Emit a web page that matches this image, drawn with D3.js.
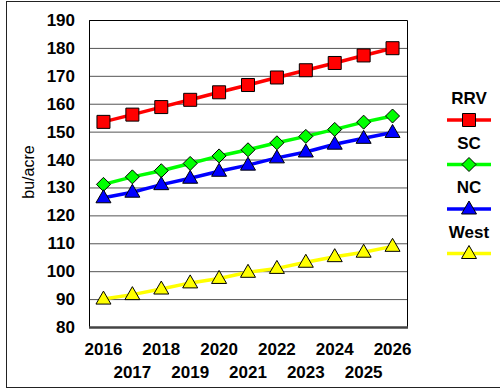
<!DOCTYPE html>
<html>
<head>
    <meta charset="UTF-8">
    <style>
        body { margin: 0; background: white; }
        text { font-family: "Liberation Sans", Arial, sans-serif; }
    </style>
</head>
<body>
    <svg></svg>
    <script src="https://d3js.org/d3.v7.min.js"></script>
    <script>
        let width = 500, height = 389;

        // data
        const years = ["2016", "2017", "2018", "2019", "2020", "2021", "2022", "2023", "2024", "2025", "2026"];
        const rrv = [153.5, 156.1, 158.8, 161.4, 164.1, 166.7, 169.4, 172.0, 174.6, 177.3, 179.9];
        const sc = [131.1, 133.8, 136.0, 138.6, 141.3, 143.5, 146.0, 148.3, 150.8, 153.4, 155.6];
        const nc = [126.3, 128.3, 131.0, 133.3, 135.8, 138.0, 140.6, 142.7, 145.5, 147.6, 149.7];
        const west = [90.0, 91.6, 93.6, 95.8, 97.4, 99.6, 101.0, 103.2, 105.2, 106.8, 108.9];
        const yTicks = [80, 90, 100, 110, 120, 130, 140, 150, 160, 170, 180, 190];

        const series = [
            { name: "RRV", values: rrv, color: "#ff0000", marker: "square" },
            { name: "SC", values: sc, color: "#00ff00", marker: "diamond" },
            { name: "NC", values: nc, color: "#0000ff", marker: "triangle" },
            { name: "West", values: west, color: "#ffff00", marker: "triangle" }
        ];

        let svg = d3.select("svg")
            .attr("width", width)
            .attr("height", height);

        // outer frame
        svg.append("rect")
            .attr("x", 6.5).attr("y", 1.5)
            .attr("width", 500).attr("height", 386)
            .attr("fill", "white")
            .attr("stroke", "#222").attr("stroke-width", 1);

        let plot = { left: 89, right: 407, top: 20, bottom: 327 };

        let x = d3.scaleBand()
            .domain(years)
            .range([plot.left, plot.right]);

        let y = d3.scaleLinear()
            .domain([80, 190])
            .range([plot.bottom, plot.top]);

        // gridlines
        svg.append("g")
            .selectAll("line")
            .data(yTicks.slice(1))
            .enter()
            .append("line")
            .attr("x1", plot.left).attr("x2", plot.right)
            .attr("y1", d => y(d) + 0.5).attr("y2", d => y(d) + 0.5)
            .attr("stroke", "#555")
            .attr("stroke-width", 1);

        // plot border
        svg.append("path")
            .attr("d", `M${plot.left + 0.5},${plot.bottom}V${plot.top + 0.5}H${plot.right + 0.5}V${plot.bottom}`)
            .attr("fill", "none")
            .attr("stroke", "#000");
        svg.append("line")
            .attr("x1", plot.left).attr("x2", plot.right + 1)
            .attr("y1", plot.bottom + 0.5).attr("y2", plot.bottom + 0.5)
            .attr("stroke", "#444").attr("stroke-width", 2.5);

        // y axis labels
        svg.append("g")
            .selectAll("text")
            .data(yTicks)
            .enter()
            .append("text")
            .attr("x", 75)
            .attr("y", d => y(d) + 6)
            .attr("text-anchor", "end")
            .style("font-size", "17px")
            .style("font-weight", "bold")
            .text(d => d);

        svg.append("text")
            .attr("transform", "translate(34,172) rotate(-90)")
            .attr("text-anchor", "middle")
            .style("font-size", "16px")
            .text("bu/acre");

        // x axis labels, staggered
        svg.append("g")
            .selectAll("text")
            .data(years)
            .enter()
            .append("text")
            .attr("x", d => x(d) + x.bandwidth() / 2)
            .attr("y", (d, i) => i % 2 === 0 ? 355 : 378)
            .attr("text-anchor", "middle")
            .style("font-size", "17px")
            .style("font-weight", "bold")
            .text(d => d);

        // marker shapes
        function markerPath(type) {
            if (type === "square") return "M-6.5,-6.5H6.5V6.5H-6.5Z";
            if (type === "diamond") return "M0,-7L7,0L0,7L-7,0Z";
            return "M0,-8L7.5,5L-7.5,5Z";
        }

        let line = d3.line()
            .x((d, i) => x(years[i]) + x.bandwidth() / 2)
            .y(d => y(d));

        series.forEach(s => {
            let g = svg.append("g");
            g.append("path")
                .datum(s.values)
                .attr("d", line)
                .attr("fill", "none")
                .attr("stroke", s.color)
                .attr("stroke-width", 3.5);
            g.selectAll("path.m")
                .data(s.values)
                .enter()
                .append("path")
                .attr("class", "m")
                .attr("d", markerPath(s.marker))
                .attr("transform", (d, i) => `translate(${x(years[i]) + x.bandwidth() / 2},${y(d)})`)
                .attr("fill", s.color)
                .attr("stroke", "#000")
                .attr("stroke-width", 1);
        });

        // legend
        let legend = svg.append("g")
            .selectAll("g")
            .data(series)
            .enter()
            .append("g")
            .attr("transform", (d, i) => `translate(469,${104 + i * 44.5})`);

        legend.append("text")
            .attr("text-anchor", "middle")
            .style("font-size", "17px")
            .style("font-weight", "bold")
            .text(d => d.name);

        legend.append("line")
            .attr("x1", -22).attr("x2", 22)
            .attr("y1", 16).attr("y2", 16)
            .attr("stroke", d => d.color)
            .attr("stroke-width", 3.5);

        legend.append("path")
            .attr("d", d => markerPath(d.marker))
            .attr("transform", "translate(0,16)")
            .attr("fill", d => d.color)
            .attr("stroke", "#000");
    </script>
</body>
</html>
